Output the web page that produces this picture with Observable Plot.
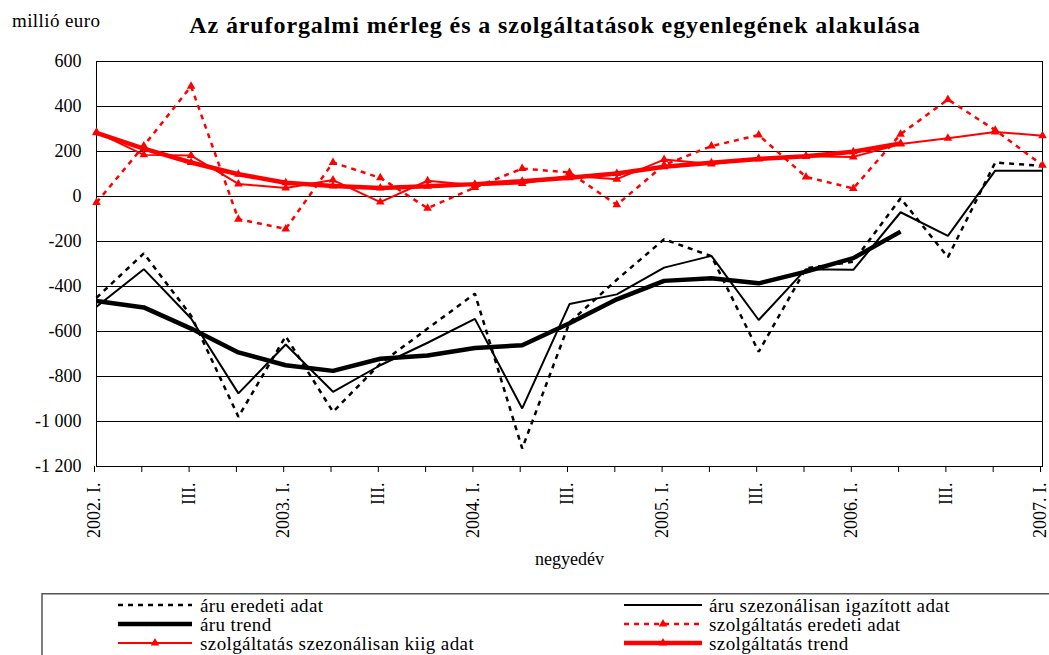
<!DOCTYPE html>
<html><head><meta charset="utf-8">
<script src="https://cdn.jsdelivr.net/npm/d3@7"></script>
<script src="https://cdn.jsdelivr.net/npm/@observablehq/plot@0.6"></script>
<style>
body{margin:0;background:#fff;width:1049px;height:655px;overflow:hidden}
svg{display:block}
#chart svg{max-width:none!important}
</style></head><body>
<div id="head"></div><div id="chart"></div><div id="legend"></div>
<script>
const titleText = "Az áruforgalmi mérleg és a szolgáltatások egyenlegének alakulása";
const unitText = "millió euro";
const xAxisTitle = "negyedév";
const quarterLabels = ["2002. I.","II.","III.","IV.","2003. I.","II.","III.","IV.","2004. I.","II.","III.","IV.","2005. I.","II.","III.","IV.","2006. I.","II.","III.","IV.","2007. I."];
const yTicks = [-1200,-1000,-800,-600,-400,-200,0,200,400,600];

const aruEredeti = [-450,-253,-530,-979,-621,-957,-743,-587,-432,-1120,-560,-370,-190,-265,-690,-319,-290,-8,-270,151,136];
const aruSzez    = [-490,-323,-542,-875,-658,-868,-750,-650,-544,-942,-478,-435,-316,-264,-549,-323,-326,-70,-175,115,115];
const aruTrend   = [-464,-493,-587,-693,-750,-775,-721,-707,-673,-661,-563,-457,-375,-363,-386,-334,-274,-156,null,null,null];
const szolgEredeti = [-27,225,490,-101,-144,151,83,-52,40,124,107,-37,140,224,273,87,36,277,431,295,139];
const szolgSzez    = [286,185,182,56,38,73,-25,70,50,58,92,77,164,144,169,179,176,233,259,287,270];
const szolgTrend   = [283,213,151,99,61,47,38,46,55,68,83,102,132,150,167,179,199,236,null,null,null];

const seriesNames = ["áru eredeti adat","áru szezonálisan igazított adat","áru trend","szolgáltatás eredeti adat","szolgáltatás szezonálisan kiig adat","szolgáltatás trend"];
const seriesValues = [aruEredeti, aruSzez, aruTrend, szolgEredeti, szolgSzez, szolgTrend];
const seriesStyle = [
  {stroke:"#000", width:2.5, dash:"5,5", tri:false},
  {stroke:"#000", width:2, dash:null, tri:false},
  {stroke:"#000", width:4.5, dash:null, tri:false},
  {stroke:"#ff0000", width:2.5, dash:"5,5", tri:true},
  {stroke:"#ff0000", width:2, dash:null, tri:true},
  {stroke:"#ff0000", width:4.5, dash:null, tri:true}
];

const serif = "'Liberation Serif','Times New Roman',serif";
const fmt = d3.formatLocale({decimal:",", thousands:" ", grouping:[3], currency:["",""], minus:"-"}).format(",");

// header
const head = d3.select("#head").append("svg").attr("width",1049).attr("height",50);
head.append("text").attr("x",12).attr("y",27).attr("font-family",serif).attr("font-size",19).attr("letter-spacing",0.4).text(unitText);
head.append("text").attr("x",555).attr("y",33).attr("text-anchor","middle").attr("font-family",serif)
  .attr("font-size",24).attr("font-weight","bold").attr("letter-spacing",0.9).text(titleText);

// chart
const marks = [
  Plot.gridY(yTicks, {stroke:"#000", strokeOpacity:1, strokeWidth:1}),
  Plot.frame({stroke:"#000", strokeWidth:1}),
  Plot.axisY(yTicks, {tickFormat: fmt, tickSize:0, tickPadding:15, fontSize:18, fontFamily:serif, label:null}),
  Plot.axisX(d3.range(quarterLabels.length), {tickFormat: i => i % 2 ? "" : quarterLabels[i], tickRotate:-90, tickSize:6, tickPadding:10, dx:-2, fontSize:18, fontFamily:serif, label:null}),
  Plot.text([xAxisTitle], {frameAnchor:"bottom", dy:93, lineAnchor:"middle", fontSize:18, fontFamily:serif})
];
seriesValues.forEach((vals, k) => {
  const st = seriesStyle[k];
  const data = vals.map((v,i)=>({q:i, v})).filter(d => d.v != null);
  marks.push(Plot.line(data, {x:"q", y:"v", stroke:st.stroke, strokeWidth:st.width, strokeDasharray:st.dash ?? undefined, strokeLinejoin:"miter", strokeLinecap:"butt"}));
});
seriesValues.forEach((vals, k) => {
  const st = seriesStyle[k];
  if (!st.tri) return;
  const data = vals.map((v,i)=>({q:i, v})).filter(d => d.v != null);
  marks.push(Plot.dot(data, {x:"q", y:"v", symbol:"triangle", r:3.2, fill:st.stroke, stroke:"none"}));
});

const chart = Plot.plot({
  width:1049, height:543,
  marginLeft:96, marginRight:7, marginTop:11, marginBottom:127,
  x:{type:"linear", domain:[0, quarterLabels.length-1]},
  y:{domain:[-1200,600]},
  style:{fontFamily:serif, fontSize:"18px", color:"#000", background:"#fff"},
  marks
});
document.getElementById("chart").appendChild(chart);

// legend
const leg = d3.select("#legend").append("svg").attr("width",1049).attr("height",62);
leg.append("rect").attr("x",42).attr("y",0.75).attr("width",1100).attr("height",100).attr("fill","none").attr("stroke","#555").attr("stroke-width",1.5);
const colX = [[118,192,200],[624,702,709]];
const rowY = [12,31,50];
seriesNames.forEach((name,k) => {
  const st = seriesStyle[k];
  const [x1,x2,tx] = colX[k%2];
  const y = rowY[Math.floor(k/2)];
  const g = leg.append("g");
  g.append("line").attr("x1",x1).attr("x2",x2).attr("y1",y).attr("y2",y)
    .attr("stroke",st.stroke).attr("stroke-width",st.width).attr("stroke-dasharray",st.dash);
  if (st.tri) g.append("path").attr("d", d3.symbol(d3.symbolTriangle, 3.2*3.2*Math.PI)()).attr("transform",`translate(${(x1+x2)/2},${y})`).attr("fill",st.stroke);
  g.append("text").attr("x",tx).attr("y",y+7).attr("font-family",serif).attr("font-size",19).attr("letter-spacing",0.4).text(name);
});
</script>
</body></html>
